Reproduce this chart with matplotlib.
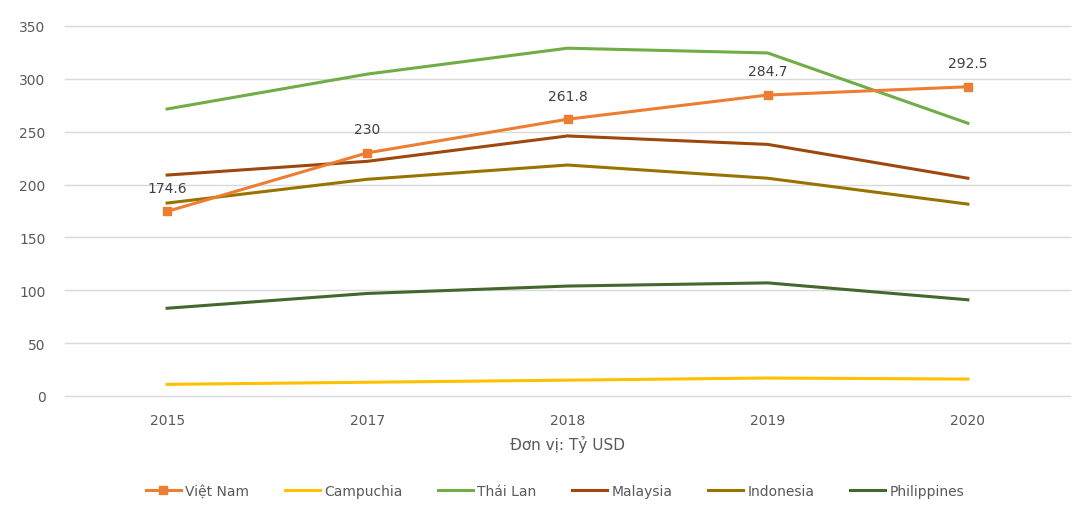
import matplotlib
matplotlib.use("Agg")
import matplotlib.pyplot as plt

years = ["2015", "2017", "2018", "2019", "2020"]
series_names = ["Việt Nam", "Campuchia", "Thái Lan", "Malaysia", "Indonesia", "Philippines"]
viet_nam = [174.6, 230, 261.8, 284.7, 292.5]
campuchia = [11, 13, 15, 17, 16]
thai_lan = [271.5, 304.5, 329, 324.5, 258]
malaysia = [209, 222, 246, 238, 206]
indonesia = [182.5, 205, 218.5, 206, 181.5]
philippines = [83, 97, 104, 107, 91]
y_ticks = [0, 50, 100, 150, 200, 250, 300, 350]

colors = ["#ED7D31", "#FFC000", "#70AD47", "#9E480E", "#997300", "#43682B"]
values = [viet_nam, campuchia, thai_lan, malaysia, indonesia, philippines]

fig = plt.figure(figsize=(10.78, 5.10), dpi=100)
ax = fig.add_axes([65/1078, 1-397/510, (1070-65)/1078, (397-27)/510])

x = list(range(len(years)))
order = [1, 2, 3, 4, 5, 0]
for i in order:
    kw = dict(color=colors[i], lw=2.2, label=series_names[i], zorder=3 + (i == 0))
    if i == 0:
        kw.update(marker="s", markersize=6)
    ax.plot(x, values[i], **kw)

for xi, v in zip(x, viet_nam):
    lab = f"{v:g}"
    ax.annotate(lab, (xi, v), xytext=(0, 12), textcoords="offset points",
                ha="center", va="bottom", fontsize=10, color="#404040")

ax.set_xlim(-0.51, 4.51)
ax.set_ylim(0, 350)
ax.set_yticks(y_ticks)
ax.set_xticks(x)
ax.set_xticklabels(years)
ax.grid(axis="y", color="#D9D9D9", lw=1)
for gl in ax.get_ygridlines():
    gl.set_clip_on(False)
ax.set_axisbelow(True)
for s in ax.spines.values():
    s.set_visible(False)
ax.tick_params(length=0, labelsize=10, colors="#595959")
ax.tick_params(axis="y", pad=14)
ax.tick_params(axis="x", pad=12)
ax.set_xlabel("Đơn vị: Tỷ USD", fontsize=11, color="#595959", labelpad=6)

handles, labels = ax.get_legend_handles_labels()
hmap = dict(zip(labels, handles))
fig.legend([hmap[n] for n in series_names], series_names, loc="center",
           bbox_to_anchor=(555/1078, 1-492/510), ncol=6, frameon=False,
           fontsize=10, handlelength=2.5, columnspacing=2.6, handletextpad=0.3,
           labelcolor="#595959")

fig.savefig("out.png", dpi=100)
